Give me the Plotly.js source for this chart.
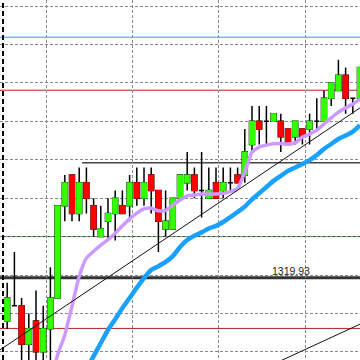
<!DOCTYPE html>
<html><head><meta charset="utf-8">
<script src="https://cdn.plot.ly/plotly-3.0.1.min.js"></script>
<style>html,body{margin:0;padding:0;background:#fff}#c{width:360px;height:360px}</style>
</head><body><div id="c"></div>
<script>
// candle index (x), OHLC values
const idx   = [1,2,3,4,5,6,7,8,9,10,11,12,13,14,15,16,17,18,19,20,21,22,23,24,25,26,27,28,29,30,31,32,33,34,35,36,37,38,39,40,41,42,43,44,45,46,47,48,49,50];
const open  = [1318.8,1319.2,1319.2,1318.2,1318.8,1318.0,1318.6,1319.4,1321.8,1322.6,1321.6,1322.4,1321.8,1321.0,1321.4,1321.6,1321.8,1321.8,1322.4,1322.0,1322.6,1322.2,1321.2,1321.2,1322.0,1322.4,1322.6,1322.2,1322.0,1322.4,1322.2,1322.4,1322.6,1322.6,1323.4,1324.0,1324.0,1324.0,1324.0,1323.8,1323.6,1323.8,1323.8,1324.0,1324.0,1324.6,1324.8,1325.2,1324.6,1324.6];
const high  = [1319.8,1320.6,1319.4,1319.0,1319.6,1319.2,1320.2,1321.8,1322.6,1322.6,1322.8,1322.8,1322.0,1321.8,1322.0,1322.2,1322.2,1322.6,1322.8,1322.8,1322.8,1322.2,1322.2,1322.0,1322.6,1323.2,1322.8,1323.2,1322.8,1322.8,1322.8,1322.8,1322.8,1323.8,1324.4,1324.4,1324.4,1324.2,1324.2,1323.8,1324.0,1323.8,1324.2,1324.6,1324.8,1325.0,1325.6,1325.4,1324.6,1325.4];
const low   = [1318.6,1319.2,1317.4,1317.5,1317.4,1317.4,1317.4,1319.4,1321.4,1321.4,1321.4,1321.6,1321.0,1321.0,1320.9,1320.9,1321.6,1321.4,1321.8,1321.8,1321.6,1320.6,1321.0,1321.2,1322.0,1322.2,1322.0,1321.5,1322.0,1322.0,1322.0,1322.2,1322.4,1322.4,1323.2,1323.4,1323.4,1324.0,1323.2,1323.4,1323.4,1323.4,1323.4,1323.8,1324.0,1324.4,1324.8,1324.2,1324.2,1324.6];
const close = [1319.4,1319.2,1318.2,1318.6,1318.0,1318.6,1319.4,1321.8,1322.4,1321.6,1322.4,1322.0,1321.2,1321.2,1321.6,1322.0,1321.6,1322.4,1322.0,1322.4,1322.2,1321.4,1321.4,1322.0,1322.6,1322.6,1322.2,1322.2,1322.2,1322.0,1322.4,1322.4,1322.4,1323.2,1324.0,1323.8,1324.0,1324.2,1323.6,1323.4,1324.0,1323.6,1324.0,1324.0,1324.6,1325.0,1325.2,1324.6,1324.6,1325.4];

// moving averages
const maFastX = [7,8,9,10,11,12,13,14,15,16,17,18,19,20,21,22,23,24,25,26,27,28,29,30,31,32,33,34,35,36,37,38,39,40,41,42,43,44,45,46,47,48,49,50];
const maFast  = [1317.14,1317.92,1318.44,1319.19,1319.97,1320.44,1320.62,1320.78,1320.92,1321.09,1321.28,1321.46,1321.61,1321.72,1321.74,1321.67,1321.68,1321.82,1321.95,1322.06,1322.08,1322.11,1322.11,1322.11,1322.13,1322.17,1322.26,1322.68,1323.20,1323.33,1323.38,1323.42,1323.42,1323.41,1323.44,1323.59,1323.67,1323.77,1323.93,1324.09,1324.24,1324.35,1324.45,1324.58];
const maSlowX = [12,13,14,15,16,17,18,19,20,21,22,23,24,25,26,27,28,29,30,31,32,33,34,35,36,37,38,39,40,41,42,43,44,45,46,47,48,49,50];
const maSlow  = [1317.53,1317.89,1318.23,1318.57,1318.85,1319.14,1319.40,1319.67,1319.92,1320.13,1320.23,1320.34,1320.49,1320.73,1320.91,1321.02,1321.11,1321.21,1321.28,1321.38,1321.51,1321.64,1321.78,1321.97,1322.13,1322.29,1322.45,1322.58,1322.71,1322.80,1322.89,1322.99,1323.12,1323.28,1323.41,1323.54,1323.63,1323.73,1323.90];

// horizontal levels
const levelBlue = 1326.19;
const levelRedHigh = 1324.81;
const levelSegment = 1322.92;
const levelSegmentStart = 11.4;
const levelGreen = 1321.00;
const levelMain = 1319.93;
const levelMainLabel = "1319.93";
const levelRedLow = 1318.61;
const separatorX = 0.42;

// trend lines
const trend1X = [0, 50];
const trend1Y = [1318.05, 1324.35];
const trend2X = [36, 50];
const trend2Y = [1317.51, 1318.72];

const GREEN = '#33ff00', RED = '#ff0000';

// wick trace (all candles, black)
const wicks = {
  type: 'candlestick', x: idx, open: open, high: high, low: low, close: close,
  increasing: {line: {color: '#000', width: 1.5}, fillcolor: '#000'},
  decreasing: {line: {color: '#000', width: 1.5}, fillcolor: '#000'},
  whiskerwidth: 0, hoverinfo: 'skip', showlegend: false
};
// body traces (non-doji)
const bx = [], bo = [], bh = [], bl = [], bc = [];
for (let i = 0; i < idx.length; i++) {
  if (open[i] !== close[i]) {
    bx.push(idx[i]); bo.push(open[i]); bc.push(close[i]);
    bh.push(Math.max(open[i], close[i])); bl.push(Math.min(open[i], close[i]));
  }
}
const bodies = {
  type: 'candlestick', x: bx, open: bo, high: bh, low: bl, close: bc,
  increasing: {line: {color: GREEN, width: 1}, fillcolor: GREEN},
  decreasing: {line: {color: RED, width: 1}, fillcolor: RED},
  whiskerwidth: 0, hoverinfo: 'skip', showlegend: false
};

const traces = [
  {type:'scatter', mode:'lines', x: maSlowX, y: maSlow, line:{color:'#1aa0ff', width:4.5, shape:'spline', smoothing:0.6}, hoverinfo:'skip'},
  {type:'scatter', mode:'lines', x: maFastX, y: maFast, line:{color:'#cc99ff', width:3.5, shape:'spline', smoothing:0.6}, hoverinfo:'skip'},
  wicks, bodies,
  {type:'scatter', mode:'lines', x: trend1X, y: trend1Y, line:{color:'#111', width:1}, hoverinfo:'skip'},
  {type:'scatter', mode:'lines', x: trend2X, y: trend2Y, line:{color:'#111', width:1}, hoverinfo:'skip'}
];

function hline(y, color, width, x0, xref) {
  return {type:'line', xref: xref || 'paper', yref:'y', x0: x0 === undefined ? 0 : x0, x1: xref === 'x' ? 50 : 1, y0: y, y1: y,
          line:{color: color, width: width}, layer:'below'};
}

const layout = {
  width: 360, height: 360,
  margin: {l:0, r:0, t:0, b:0, pad:0},
  paper_bgcolor: '#fff', plot_bgcolor: '#fff',
  showlegend: false,
  boxgap: 0.3, boxgroupgap: 0,
  xaxis: {range:[0,50], showticklabels:false, ticks:'', zeroline:false, showline:false,
          showgrid:true, gridcolor:'#8a8a8a', griddash:'3px,2px', gridwidth:1, tick0:6.4, dtick:12,
          rangeslider:{visible:false}, fixedrange:true},
  yaxis: {range:[1317.788,1327.158], showticklabels:false, ticks:'', zeroline:false, showline:false,
          showgrid:true, gridcolor:'#8a8a8a', griddash:'3px,2px', gridwidth:1, tick0:1320, dtick:1, fixedrange:true},
  shapes: [
    hline(levelBlue, '#3399ff', 1),
    hline(levelRedHigh, '#b22222', 1),
    hline(levelSegment, '#444', 1.5, levelSegmentStart, 'x'),
    hline(levelGreen, '#0b5a0b', 1),
    hline(levelMain, '#333', 3),
    hline(levelRedLow, '#b22222', 1),
    {type:'line', xref:'x', yref:'paper', x0: separatorX, x1: separatorX, y0:0, y1:1,
     line:{color:'#000', width:2, dash:'5px,3px'}, layer:'above'}
  ],
  annotations: [
    {x: 40.35, y: levelMain, xref:'x', yref:'y', text: levelMainLabel, showarrow:false,
     xanchor:'center', yanchor:'bottom', yshift:0, borderpad:0,
     font:{family:'"Liberation Sans Narrow", "Liberation Sans", Arial, sans-serif', size:10.5, color:'#222'}}
  ]
};

Plotly.newPlot('c', traces, layout, {displayModeBar:false, staticPlot:true});
</script></body></html>
